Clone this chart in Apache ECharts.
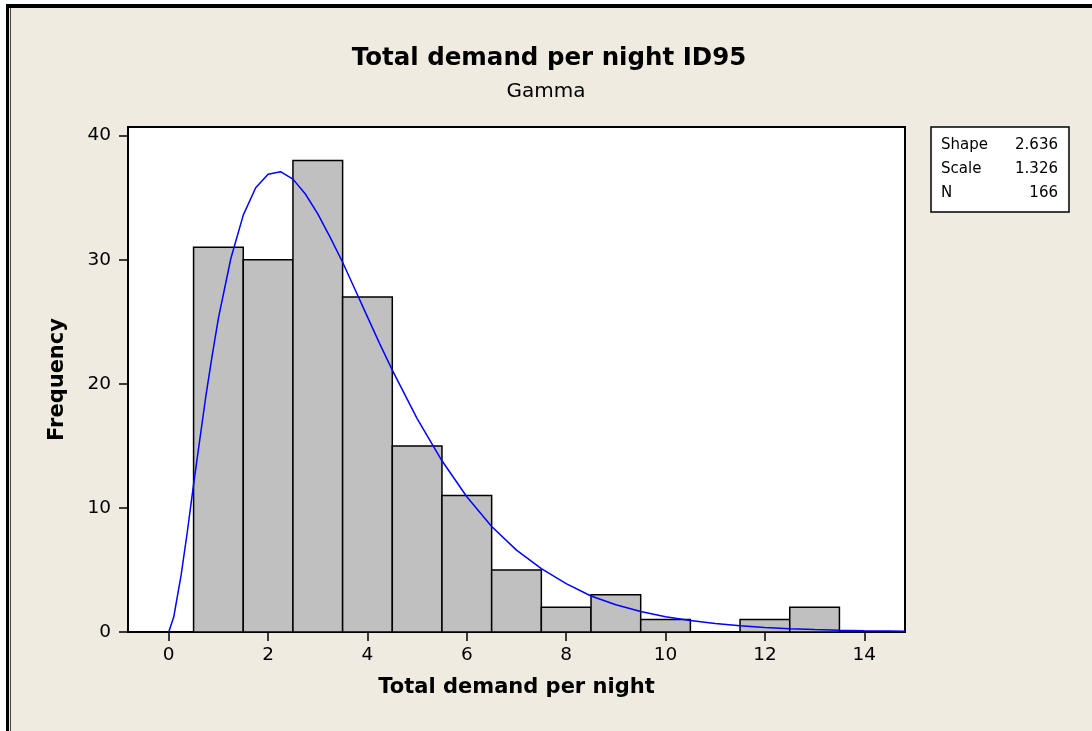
<!DOCTYPE html>
<html style="height: 100%">
  <head>
    <meta charset="utf-8" />
  </head>
  <body style="height: 100%; margin: 0; background: #fff">
    <div id="container" style="width: 1092px; height: 731px"></div>

    <script
      type="text/javascript"
      src="https://cdn.jsdelivr.net/npm/echarts@6/dist/echarts.min.js"
    ></script>

    <script type="text/javascript">
      // histogram bins (centre of each bin, width 1) and their counts
      var binCenters = [1, 2, 3, 4, 5, 6, 7, 8, 9, 10, 11, 12, 13];
      var frequencies = [31, 30, 38, 27, 15, 11, 5, 2, 3, 1, 0, 1, 2];

      // fitted gamma curve
      var curveX = [
        0, 0.1, 0.25, 0.375, 0.5, 0.625, 0.75, 0.875, 1, 1.25, 1.5, 1.75, 2,
        2.25, 2.5, 2.75, 3, 3.25, 3.5, 3.75, 4, 4.25, 4.5, 5, 5.5, 6, 6.5, 7,
        7.5, 8, 8.5, 9, 9.5, 10, 10.5, 11, 11.5, 12, 12.5, 13, 13.5, 14, 14.5,
        14.82,
      ];
      var curveY = [
        0, 1.2, 4.6, 8.1, 11.9, 15.5, 19.1, 22.3, 25.3, 30.1, 33.6, 35.8, 36.9,
        37.1, 36.5, 35.3, 33.7, 31.8, 29.8, 27.6, 25.4, 23.2, 21.1, 17.2, 13.8,
        10.9, 8.5, 6.6, 5.1, 3.9, 2.9, 2.2, 1.65, 1.23, 0.92, 0.68, 0.5, 0.37,
        0.27, 0.2, 0.14, 0.1, 0.08, 0.06,
      ];

      var xTicks = [0, 2, 4, 6, 8, 10, 12, 14];
      var yTicks = [0, 10, 20, 30, 40];

      var statNames = ["Shape", "Scale", "N"];
      var statValues = ["2.636", "1.326", "166"];

      var FONT = "DejaVu Sans";
      var bg = "#EFEBE1";

      var dom = document.getElementById("container");
      var myChart = echarts.init(dom);

      var barData = binCenters.map(function (c, i) {
        return [c, frequencies[i]];
      });
      var curveData = curveX.map(function (x, i) {
        return [x, curveY[i]];
      });

      var statText = [];
      statNames.forEach(function (name, i) {
        statText.push({
          type: "text",
          style: {
            text: name,
            x: 941,
            y: 145 + i * 24,
            font: "15px " + FONT,
            fill: "#000",
            align: "left",
            verticalAlign: "middle",
          },
        });
        statText.push({
          type: "text",
          style: {
            text: statValues[i],
            x: 1058,
            y: 145 + i * 24,
            font: "15px " + FONT,
            fill: "#000",
            align: "right",
            verticalAlign: "middle",
          },
        });
      });

      var option = {
        backgroundColor: bg,
        animation: false,
        textStyle: { fontFamily: FONT },
        graphic: [
          // outer frame
          { type: "rect", shape: { x: 0, y: 0, width: 1092, height: 4 }, style: { fill: "#fff" } },
          { type: "rect", shape: { x: 0, y: 0, width: 6, height: 731 }, style: { fill: "#fff" } },
          { type: "rect", shape: { x: 6, y: 4, width: 1086, height: 4 }, style: { fill: "#000" } },
          { type: "rect", shape: { x: 6, y: 4, width: 3, height: 727 }, style: { fill: "#000" } },
          { type: "rect", shape: { x: 10, y: 8, width: 1, height: 723 }, style: { fill: "#444" } },
          // titles
          {
            type: "text",
            style: {
              text: "Total demand per night ID95",
              x: 549,
              y: 59,
              font: "bold 24.5px " + FONT,
              fill: "#000",
              align: "center",
              verticalAlign: "middle",
            },
          },
          {
            type: "text",
            style: {
              text: "Gamma",
              x: 546,
              y: 92,
              font: "20px " + FONT,
              fill: "#000",
              align: "center",
              verticalAlign: "middle",
            },
          },
          // parameter box
          {
            type: "group",
            children: [
              {
                type: "rect",
                shape: { x: 931, y: 127, width: 138, height: 85 },
                style: { fill: "#fff", stroke: "#000", lineWidth: 1.5 },
              },
            ].concat(statText),
          },
        ],
        grid: {
          left: 128,
          right: 187,
          top: 127,
          bottom: 99,
          show: true,
          backgroundColor: "#fff",
          borderColor: "#000",
          borderWidth: 2,
        },
        xAxis: {
          type: "value",
          min: -0.82,
          max: 14.82,
          name: "Total demand per night",
          nameLocation: "middle",
          nameGap: 45,
          nameTextStyle: {
            fontSize: 21,
            fontWeight: "bold",
            color: "#000",
            fontFamily: FONT,
          },
          axisLine: {
            show: true,
            onZero: false,
            lineStyle: { color: "#000", width: 2 },
          },
          axisTick: {
            show: true,
            customValues: xTicks,
            length: 9,
            lineStyle: { color: "#000", width: 1.5 },
          },
          axisLabel: {
            customValues: xTicks,
            fontSize: 18.5,
            color: "#000",
            margin: 14,
            fontFamily: FONT,
          },
          splitLine: { show: false },
        },
        yAxis: {
          type: "value",
          min: 0,
          max: 40.7,
          name: "Frequency",
          nameLocation: "middle",
          nameGap: 60,
          nameTextStyle: {
            fontSize: 21,
            fontWeight: "bold",
            color: "#000",
            fontFamily: FONT,
          },
          axisLine: {
            show: true,
            onZero: false,
            lineStyle: { color: "#000", width: 2 },
          },
          axisTick: {
            show: true,
            customValues: yTicks,
            length: 9,
            lineStyle: { color: "#000", width: 1.5 },
          },
          axisLabel: {
            customValues: yTicks,
            fontSize: 18.5,
            color: "#000",
            margin: 17,
            fontFamily: FONT,
          },
          splitLine: { show: false },
        },
        series: [
          {
            type: "custom",
            renderItem: function (params, api) {
              var x = api.value(0);
              var y = api.value(1);
              if (!y) return null;
              var p0 = api.coord([x - 0.5, y]);
              var p1 = api.coord([x + 0.5, 0]);
              return {
                type: "rect",
                shape: {
                  x: p0[0],
                  y: p0[1],
                  width: p1[0] - p0[0],
                  height: p1[1] - p0[1],
                },
                style: { fill: "#C0C0C0", stroke: "#000", lineWidth: 1.5 },
              };
            },
            encode: { x: 0, y: 1 },
            data: barData,
            z: 2,
          },
          {
            type: "line",
            data: curveData,
            showSymbol: false,
            smooth: false,
            lineStyle: { color: "#0000FF", width: 1.5 },
            z: 3,
          },
        ],
      };

      myChart.setOption(option);
    </script>
  </body>
</html>
